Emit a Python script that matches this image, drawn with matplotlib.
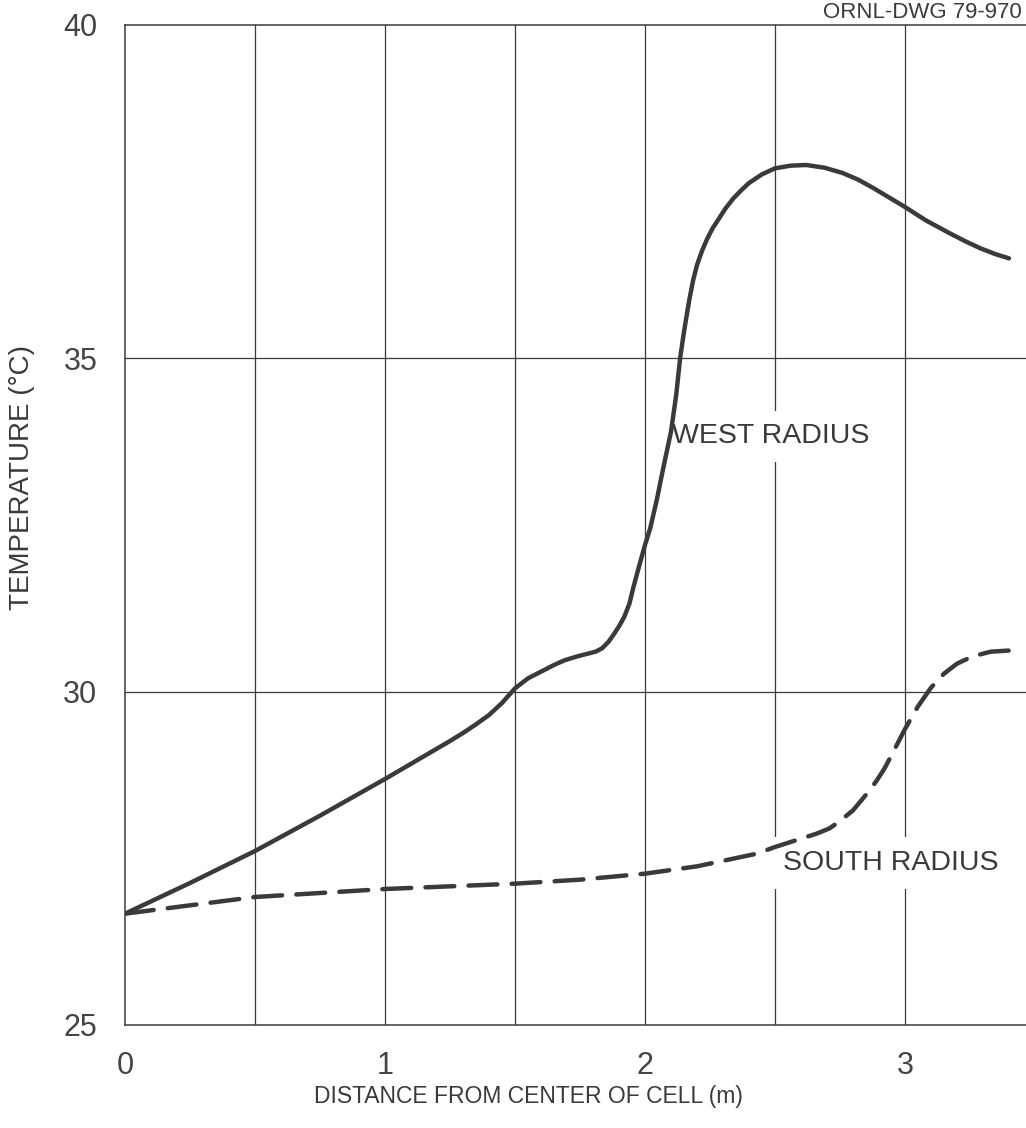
import matplotlib
matplotlib.use("Agg")
import matplotlib.pyplot as plt

# values
west_x = [0, 0.25, 0.5, 0.75, 1.0, 1.25, 1.3, 1.35, 1.4, 1.45, 1.5, 1.55, 1.6, 1.65,
          1.69, 1.74, 1.78, 1.81, 1.835, 1.86, 1.88, 1.9, 1.92, 1.94, 1.955, 1.975,
          2.0, 2.02, 2.045, 2.07, 2.1, 2.12, 2.135, 2.15, 2.17, 2.185, 2.2, 2.22, 2.24,
          2.26, 2.28, 2.31, 2.34, 2.37, 2.4, 2.45, 2.5, 2.56, 2.62, 2.69, 2.76, 2.82,
          2.88, 2.94, 3.0, 3.08, 3.17, 3.23, 3.29, 3.35, 3.4]
west_t = [26.67, 27.13, 27.61, 28.14, 28.69, 29.26, 29.38, 29.51, 29.65, 29.83, 30.05,
          30.2, 30.3, 30.4, 30.47, 30.53, 30.57, 30.6, 30.65, 30.75, 30.86, 30.98,
          31.12, 31.32, 31.56, 31.85, 32.2, 32.45, 32.87, 33.35, 33.9, 34.45, 35.0,
          35.4, 35.87, 36.17, 36.4, 36.62, 36.8, 36.95, 37.07, 37.25, 37.4, 37.52,
          37.63, 37.76, 37.85, 37.89, 37.9, 37.86, 37.78, 37.68, 37.55, 37.41, 37.27,
          37.07, 36.88, 36.76, 36.65, 36.56, 36.5]

south_x = [0, 0.5, 1.0, 1.5, 1.75, 2.0, 2.2, 2.43, 2.5, 2.58, 2.66, 2.71, 2.75, 2.8,
           2.83, 2.86, 2.89, 2.92, 2.95, 3.0, 3.05, 3.1, 3.15, 3.2, 3.26, 3.33, 3.415]
south_t = [26.67, 26.92, 27.04, 27.12, 27.18, 27.27, 27.38, 27.57, 27.67, 27.77, 27.87,
           27.95, 28.06, 28.22, 28.36, 28.5, 28.66, 28.84, 29.06, 29.44, 29.78, 30.06,
           30.27, 30.42, 30.53, 30.6, 30.62]

x_ticks = [0, 1, 2, 3]
y_ticks = [25, 30, 35, 40]
x_grid = [0.5, 1.0, 1.5, 2.0, 2.5, 3.0]
y_grid = [30, 35]

INK = "#3a3a3a"
FONT = ["Liberation Sans", "DejaVu Sans"]


def runPlot():
    plt.rcParams['font.family'] = FONT
    fig = plt.figure(figsize=(10.26, 11.28), dpi=100)
    ax = fig.add_axes([125 / 1026, 1 - 1025 / 1128, 901 / 1026, 1000 / 1128])
    ax.set_xlim(0, 901 / 260)
    ax.set_ylim(25, 40)

    # hand drawn grid
    for gx in x_grid:
        ax.axvline(gx, color=INK, linewidth=0.9, zorder=0.5)
    for gy in y_grid:
        ax.axhline(gy, color=INK, linewidth=0.9, zorder=0.5)

    ax.plot(west_x, west_t, color=INK, linewidth=3.2, solid_capstyle='round',
            solid_joinstyle='round', zorder=3)
    ax.plot(south_x, south_t, color=INK, linewidth=3.2, linestyle=(0, (6.5, 3.2)),
            dash_capstyle='round', dash_joinstyle='round', zorder=3)

    box = dict(facecolor='white', edgecolor='none', pad=9)
    ax.text(2.105, 33.83, "WEST RADIUS", fontsize=20.5, color=INK, va='center',
            ha='left', bbox=box, zorder=2)
    ax.text(2.53, 27.43, "SOUTH RADIUS", fontsize=20.5, color=INK, va='center',
            ha='left', bbox=box, zorder=2)

    for side in ['top', 'left', 'bottom']:
        ax.spines[side].set_color(INK)
        ax.spines[side].set_linewidth(1.1)
    ax.spines['right'].set_visible(False)

    ax.set_xticks(x_ticks)
    ax.set_yticks(y_ticks)
    ax.set_xticklabels([str(v) for v in x_ticks])
    ax.set_yticklabels([str(v) for v in y_ticks])
    ax.tick_params(axis='both', length=0, labelsize=22, labelcolor="#444444")
    ax.tick_params(axis='x', pad=19)
    ax.tick_params(axis='y', pad=20)

    fig.text(528 / 1026, 1 - 1097 / 1128, "DISTANCE FROM CENTER OF CELL (m)",
             fontsize=16.5, color=INK, ha='center', va='center')
    fig.text(22 / 1026, 1 - 478 / 1128, "TEMPERATURE (°C)", fontsize=20, color=INK,
             ha='center', va='center', rotation=90)
    fig.text(1022 / 1026, 1 - 2 / 1128, "ORNL-DWG 79-970", fontsize=16, color=INK,
             ha='right', va='top')

    fig.savefig("out.png", dpi=100, facecolor='white')


if __name__ == '__main__':
    runPlot()
